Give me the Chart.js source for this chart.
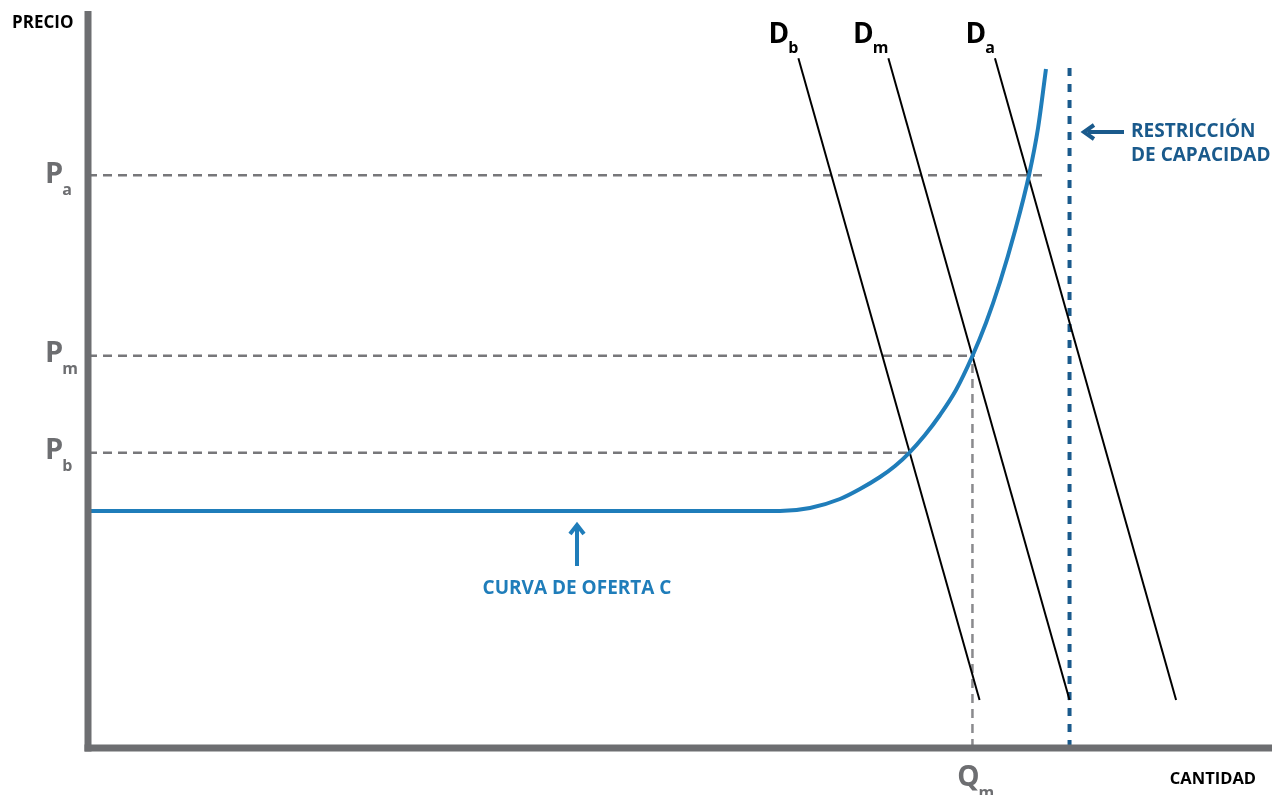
<!DOCTYPE html>
<html><head><meta charset="utf-8">
<script src="https://cdn.jsdelivr.net/npm/chart.js@4.4.0/dist/chart.umd.min.js"></script>
<style>html,body{margin:0;padding:0;background:#fff;}#wrap{width:1281px;height:795px;position:relative;}</style>
</head><body><div id="wrap"><canvas id="c" width="1281" height="795"></canvas></div>
<script>
// ---- data (quantity / price units, 0..100) ----
const supplyQ = [0, 58.45, 60.98, 63.51, 65.20, 66.89, 68.16, 69.34, 70.69, 71.96, 73.31, 74.66, 75.84, 77.03, 78.29, 79.48, 80.24, 80.91];
const supplyP = [32.03, 32.03, 32.43, 33.65, 35.0, 36.62, 38.11, 39.86, 42.30, 45.0, 48.38, 52.84, 57.43, 62.97, 69.86, 77.43, 83.78, 91.76];
const demandSubs = ['b', 'm', 'a'];
const demandTopQ = [60.0, 67.6, 76.6];
const demandTopP = [93.2, 93.2, 93.2];
const demandBotQ = [75.3, 82.9, 91.9];
const demandBotP = [6.5, 6.5, 6.5];
const priceSubs = ['a', 'm', 'b'];
const priceValues = [77.4, 53.0, 39.9];
const priceGuideEnd = [80.9, 74.9, 69.3];
const qmValue = 74.7;
const capacityQ = 82.9;
const capacityTop = 91.9;
const axisTitles = ['PRECIO', 'CANTIDAD'];
const capacityText = ['RESTRICCIÓN', 'DE CAPACIDAD'];
const supplyText = 'CURVA DE OFERTA C';

const FONT = "'Open Sans', sans-serif";
const GRAY = '#6d6e71';
const BLUE = '#1f7dba';
const DBLUE = '#1a5a8c';

const datasets = [];
priceValues.forEach((p, i) => {
  datasets.push({data: [{x: 0, y: p}, {x: priceGuideEnd[i], y: p}], borderColor: '#77777a', borderWidth: 2.5, borderDash: [9, 6], order: 4});
});
datasets.push({data: [{x: qmValue, y: 0}, {x: qmValue, y: priceValues[1]}], borderColor: '#8a8a8d', borderWidth: 2.5, borderDash: [9, 6], order: 4});
datasets.push({data: [{x: capacityQ, y: 0}, {x: capacityQ, y: capacityTop}], borderColor: DBLUE, borderWidth: 4, borderDash: [8, 8], order: 3});
demandSubs.forEach((s, i) => {
  datasets.push({data: [{x: demandTopQ[i], y: demandTopP[i]}, {x: demandBotQ[i], y: demandBotP[i]}], borderColor: '#000', borderWidth: 2, order: 2});
});
datasets.push({data: supplyQ.map((q, i) => ({x: q, y: supplyP[i]})), borderColor: BLUE, borderWidth: 4, cubicInterpolationMode: 'monotone', order: 1});
datasets.forEach(d => { d.showLine = true; d.pointRadius = 0; d.fill = false; d.clip = false; });

function subText(ctx, main, sub, x, base, color, mainSize, subSize, drop, align) {
  ctx.fillStyle = color;
  ctx.textBaseline = 'alphabetic';
  ctx.textAlign = 'left';
  ctx.font = 'bold ' + mainSize + 'px ' + FONT;
  const mw = ctx.measureText(main).width;
  ctx.font = 'bold ' + subSize + 'px ' + FONT;
  const sw = ctx.measureText(sub).width;
  let x0 = x;
  if (align === 'right') x0 = x - mw - sw;
  if (align === 'center') x0 = x - mw / 2;
  ctx.font = 'bold ' + mainSize + 'px ' + FONT;
  ctx.fillText(main, x0, base);
  ctx.font = 'bold ' + subSize + 'px ' + FONT;
  ctx.fillText(sub, x0 + mw - 1, base + drop);
}

const annot = {
  id: 'annot',
  afterDatasetsDraw(chart) {
    const ctx = chart.ctx, xs = chart.scales.x, ys = chart.scales.y, a = chart.chartArea;
    ctx.save();
    // axes
    ctx.fillStyle = GRAY;
    ctx.fillRect(a.left - 3.5, 11, 7, a.bottom - 11 + 3.5);
    ctx.fillRect(a.left - 3.5, a.bottom - 3.5, a.right - a.left + 3.5, 7);
    // axis titles
    ctx.fillStyle = '#000';
    ctx.font = 'bold 17px ' + FONT;
    ctx.textAlign = 'left'; ctx.textBaseline = 'alphabetic';
    ctx.fillText(axisTitles[0], 12, 28);
    ctx.font = 'bold 16.5px ' + FONT;
    ctx.textAlign = 'right';
    ctx.fillText(axisTitles[1], 1256, 784);
    // price labels
    priceValues.forEach((p, i) => {
      const y = ys.getPixelForValue(p);
      subText(ctx, 'P', priceSubs[i], 45, y + 6 + (i === 0 ? 2 : 0), GRAY, 29, 16, 12, 'left');
    });
    // Q_m label
    subText(ctx, 'Q', 'm', xs.getPixelForValue(qmValue) - 4, 786, GRAY, 28, 16, 12, 'center');
    // demand labels
    demandSubs.forEach((s, i) => {
      const x = xs.getPixelForValue(demandTopQ[i]);
      subText(ctx, 'D', s, x + 1, 43, '#000', 28, 16, 10, 'right');
    });
    // capacity text + arrow
    ctx.fillStyle = DBLUE;
    ctx.font = 'bold 19px ' + FONT;
    ctx.textAlign = 'left';
    ctx.fillText(capacityText[0], 1131, 137);
    ctx.fillText(capacityText[1], 1131, 161);
    ctx.strokeStyle = DBLUE; ctx.lineWidth = 4; ctx.lineCap = 'butt';
    ctx.beginPath(); ctx.moveTo(1124, 132); ctx.lineTo(1088, 132); ctx.stroke();
    ctx.beginPath(); ctx.lineWidth = 4; ctx.lineJoin = 'miter';
    ctx.moveTo(1094, 125); ctx.lineTo(1084, 132); ctx.lineTo(1094, 139); ctx.stroke();
    // supply text + arrow
    const ax = 577;
    ctx.fillStyle = BLUE;
    ctx.font = 'bold 19px ' + FONT;
    ctx.textAlign = 'center';
    ctx.fillText(supplyText, ax, 594);
    ctx.strokeStyle = BLUE; ctx.lineWidth = 4;
    ctx.beginPath(); ctx.moveTo(ax, 566); ctx.lineTo(ax, 528); ctx.stroke();
    ctx.beginPath();
    ctx.moveTo(ax - 7, 534); ctx.lineTo(ax, 525); ctx.lineTo(ax + 7, 534); ctx.stroke();
    ctx.restore();
  }
};

new Chart(document.getElementById('c'), {
  type: 'scatter',
  data: {datasets},
  options: {
    responsive: false,
    animation: false,
    layout: {padding: {left: 88, top: 8, right: 9, bottom: 47}},
    plugins: {legend: {display: false}, tooltip: {enabled: false}},
    scales: {
      x: {type: 'linear', min: 0, max: 100, display: false},
      y: {type: 'linear', min: 0, max: 100, display: false}
    }
  },
  plugins: [annot]
});
</script></body></html>
